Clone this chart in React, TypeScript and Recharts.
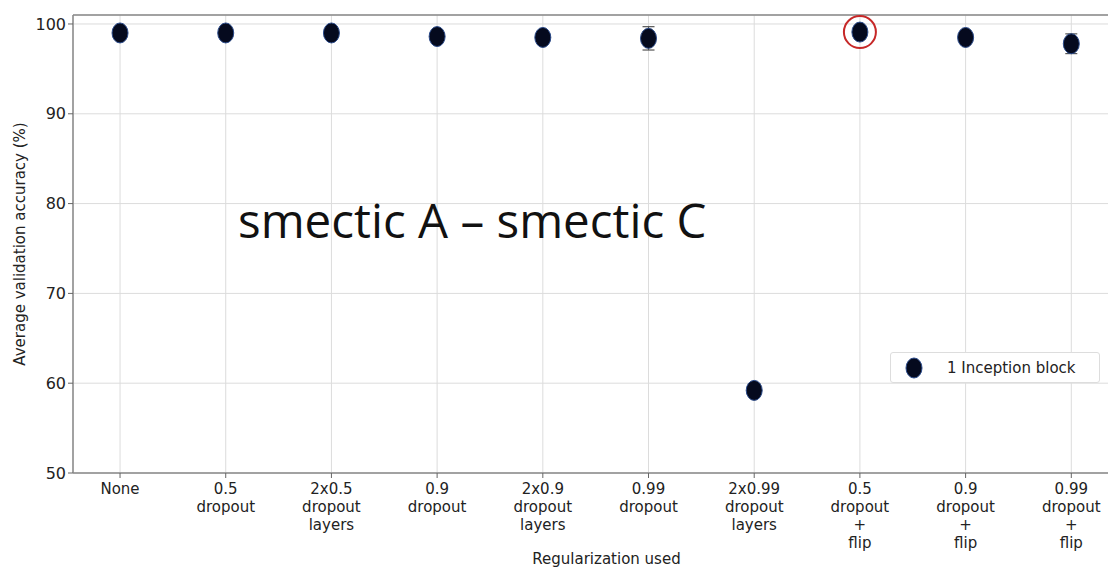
import { CartesianGrid, ErrorBar, ReferenceDot, Scatter, ScatterChart, XAxis, YAxis } from "recharts";

const categories = [
  "None",
  "0.5\ndropout",
  "2x0.5\ndropout\nlayers",
  "0.9\ndropout",
  "2x0.9\ndropout\nlayers",
  "0.99\ndropout",
  "2x0.99\ndropout\nlayers",
  "0.5\ndropout\n+\nflip",
  "0.9\ndropout\n+\nflip",
  "0.99\ndropout\n+\nflip",
];
const accuracy = [99.0, 99.0, 99.0, 98.6, 98.5, 98.4, 59.2, 99.1, 98.5, 97.8];
const errors = [0.2, 0.2, 0.2, 0.3, 0.3, 1.3, 0.2, 0.3, 0.4, 1.1];
const yTicks = [50, 60, 70, 80, 90, 100];
const highlighted = 7;

const data = categories.map((c, i) => ({ x: i, y: accuracy[i], err: errors[i], label: c }));

const font = "'DejaVu Sans', sans-serif";

// eslint-disable-next-line @typescript-eslint/no-explicit-any
const Marker = (props: any) => {
  const { cx, cy } = props;
  return <ellipse cx={cx} cy={cy} rx={8} ry={10} fill="#050a1e" stroke="#2a4a8a" strokeWidth={1} />;
};

// eslint-disable-next-line @typescript-eslint/no-explicit-any
const CategoryTick = (props: any) => {
  const { x, y, payload } = props;
  const lines = (categories[payload.value] ?? "").split("\n");
  return (
    <text x={x} y={y + 2} textAnchor="middle" fill="#222" fontSize={15} fontFamily={font}>
      {lines.map((l, i) => (
        <tspan key={i} x={x} dy={i === 0 ? 12 : 18}>
          {l}
        </tspan>
      ))}
    </text>
  );
};

const LegendBox = () => (
  <div
    style={{
      position: "absolute",
      left: 890,
      top: 352,
      display: "flex",
      alignItems: "center",
      border: "1px solid #ddd",
      borderRadius: 3,
      background: "#fff",
      width: 210,
      height: 31,
      fontFamily: font,
      fontSize: 15,
      color: "#222",
      boxSizing: "border-box",
    }}
  >
    <svg width={46} height={28}>
      <ellipse cx={23} cy={14} rx={8} ry={10} fill="#050a1e" stroke="#2a4a8a" />
    </svg>
    <span style={{ marginLeft: 10 }}>1 Inception block</span>
  </div>
);

export default function App() {
  return (
    <div style={{ position: "absolute", left: 0, top: 0, width: 1108, height: 567, background: "#fff", overflow: "hidden" }}>
      <ScatterChart width={1140} height={567} margin={{ top: 15, right: 0, left: 0, bottom: 64 }}>
        <CartesianGrid stroke="#dcdcdc" strokeWidth={1} />
        <XAxis
          type="number"
          dataKey="x"
          domain={[-0.445, 9.65]}
          ticks={categories.map((_, i) => i)}
          tick={<CategoryTick />}
          tickLine={{ stroke: "#666" }}
          tickSize={5}
          axisLine={{ stroke: "#888", strokeWidth: 1.5 }}
          interval={0}
          allowDataOverflow
          label={{ value: "Regularization used", position: "insideBottom", offset: -61, fill: "#222", fontSize: 15, fontFamily: font }}
        />
        <YAxis
          type="number"
          dataKey="y"
          domain={[50, 101]}
          ticks={yTicks}
          width={73}
          tick={{ fill: "#222", fontSize: 16, fontFamily: font }}
          tickLine={{ stroke: "#666" }}
          tickSize={5}
          axisLine={{ stroke: "#888", strokeWidth: 1.5 }}
          allowDataOverflow
          label={{
            value: "Average validation accuracy (%)",
            angle: -90,
            position: "insideLeft",
            offset: 20,
            style: { textAnchor: "middle", fill: "#222", fontSize: 15, fontFamily: font },
          }}
        />
        <Scatter name="1 Inception block" data={data} shape={<Marker />} isAnimationActive={false}>
          <ErrorBar dataKey="err" direction="y" width={6} stroke="#555" strokeWidth={1.2} />
        </Scatter>
        <ReferenceDot x={highlighted} y={accuracy[highlighted]} r={16} fill="none" stroke="#c62828" strokeWidth={2} />
        <line x1={73} y1={15} x2={1140} y2={15} stroke="#888" strokeWidth={1.5} />
      </ScatterChart>
      <LegendBox />
      <div
        style={{
          position: "absolute",
          left: 238,
          top: 187,
          fontFamily: "'Open Sans', sans-serif",
          fontSize: 47.5,
          color: "#111",
          whiteSpace: "nowrap",
        }}
      >
        smectic A – smectic C
      </div>
    </div>
  );
}
